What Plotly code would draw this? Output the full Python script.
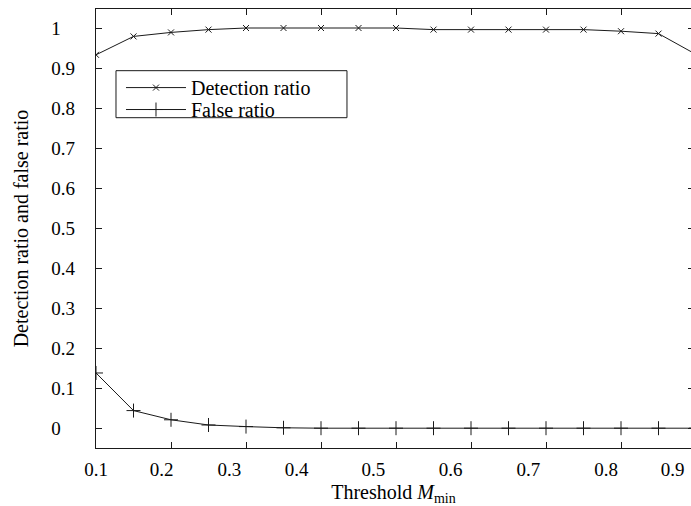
import plotly.graph_objects as go

# Threshold values and the two measured ratios
thresholds = [0.10, 0.15, 0.20, 0.25, 0.30, 0.35, 0.40, 0.45, 0.50,
              0.55, 0.60, 0.65, 0.70, 0.75, 0.80, 0.85, 0.90]
detection_ratio = [0.933, 0.979, 0.989, 0.996, 1.000, 1.000, 1.000, 1.000, 1.000,
                   0.996, 0.996, 0.996, 0.996, 0.996, 0.992, 0.986, 0.934]
false_ratio = [0.138, 0.044, 0.021, 0.008, 0.004, 0.001, 0.000, 0.000, 0.000,
               0.000, 0.000, 0.000, 0.000, 0.000, 0.000, 0.000, 0.000]

# Axis ticks and labels
x_ticks = [0.1, 0.2, 0.3, 0.4, 0.5, 0.6, 0.7, 0.8]
x_tick_labels = ["0.1", "0.2", "0.3", "0.4", "0.5", "0.6", "0.7", "0.8", "0.9"]
y_ticks = [0, 0.1, 0.2, 0.3, 0.4, 0.5, 0.6, 0.7, 0.8, 0.9, 1.0]
y_tick_labels = ["0", "0.1", "0.2", "0.3", "0.4", "0.5", "0.6", "0.7", "0.8", "0.9", "1"]

# Layout: where the x tick labels sit along the axis
x_label_pos = [0.1, 0.1876, 0.2777, 0.3676, 0.4697, 0.5729, 0.6764, 0.7800, 0.8689]

FONT = "Liberation Serif, Times New Roman, serif"
INK = "#1a1a1a"
X_RANGE = [0.1, 0.1 + 595 / 750]
Y_RANGE = [-0.0495, 1.0475]
TICK_SIZE = 19
TITLE_SIZE = 20

# pad short labels so the y labels read left-aligned
nb = "\u00a0"
y_text = [t + nb * (3 if len(t) == 1 else 0) for t in y_tick_labels]

fig = go.Figure()
fig.add_trace(go.Scatter(
    x=thresholds, y=detection_ratio, name="Detection ratio",
    mode="lines+markers", legend="legend",
    line=dict(color=INK, width=1),
    marker=dict(symbol="x-thin", size=6, line=dict(color=INK, width=1)),
))
fig.add_trace(go.Scatter(
    x=thresholds, y=false_ratio, name="False ratio",
    mode="lines+markers", legend="legend2",
    line=dict(color=INK, width=1),
    marker=dict(symbol="cross-thin", size=10, line=dict(color=INK, width=1)),
))
# empty-drawing traces that bring the label axis and the right tick axis to life
fig.add_trace(go.Scatter(x=thresholds, y=detection_ratio, xaxis="x2", yaxis="y",
                         mode="none", showlegend=False, hoverinfo="skip"))
fig.add_trace(go.Scatter(x=thresholds, y=detection_ratio, xaxis="x", yaxis="y2",
                         mode="none", showlegend=False, hoverinfo="skip"))

axis_common = dict(showgrid=False, zeroline=False, color=INK)
legend_common = dict(
    xanchor="left", yanchor="middle", borderwidth=0, bgcolor="rgba(0,0,0,0)",
    font=dict(family=FONT, size=TITLE_SIZE, color="black"), itemwidth=60,
)

fig.update_layout(
    width=691, height=506,
    margin=dict(l=96, r=0, t=9, b=58),
    paper_bgcolor="white", plot_bgcolor="white",
    font=dict(family=FONT, size=TICK_SIZE, color="black"),
    showlegend=True,
    legend=dict(**legend_common, x=0.042, y=0.821),
    legend2=dict(**legend_common, x=0.042, y=0.771),
    shapes=[dict(type="rect", xref="paper", yref="paper",
                 x0=0.0336, x1=0.4218, y0=0.7524, y1=0.8595,
                 line=dict(color=INK, width=1), fillcolor="rgba(0,0,0,0)")],
    xaxis=dict(
        **axis_common, range=X_RANGE, tickmode="array", tickvals=x_ticks,
        showticklabels=False, ticks="inside", ticklen=6, tickcolor=INK,
        showline=True, linecolor=INK, linewidth=1.2, mirror="ticks",
        title=dict(text="Threshold <i>M</i><sub>min</sub>",
                   font=dict(family=FONT, size=TITLE_SIZE, color="black"), standoff=42),
    ),
    xaxis2=dict(
        **axis_common, overlaying="x", anchor="y", side="bottom", range=X_RANGE,
        tickmode="array", tickvals=x_label_pos, ticktext=x_tick_labels,
        ticks="", showline=False, ticklabelstandoff=8,
        tickfont=dict(family=FONT, size=TICK_SIZE, color="black"),
    ),
    yaxis=dict(
        **axis_common, range=Y_RANGE, tickmode="array", tickvals=y_ticks,
        ticktext=y_text, ticks="inside", ticklen=6, tickcolor=INK,
        showline=True, linecolor=INK, linewidth=1.2, mirror=False,
        ticklabelstandoff=16,
        tickfont=dict(family=FONT, size=TICK_SIZE, color="black"),
        title=dict(text="Detection ratio and false ratio",
                   font=dict(family=FONT, size=TITLE_SIZE, color="black"), standoff=17),
    ),
    yaxis2=dict(
        **axis_common, overlaying="y", anchor="free", position=1, side="right",
        range=Y_RANGE, tickmode="array", tickvals=y_ticks, showticklabels=False,
        ticks="inside", ticklen=3, tickcolor=INK, showline=False,
    ),
)

fig.write_html("out.html")
